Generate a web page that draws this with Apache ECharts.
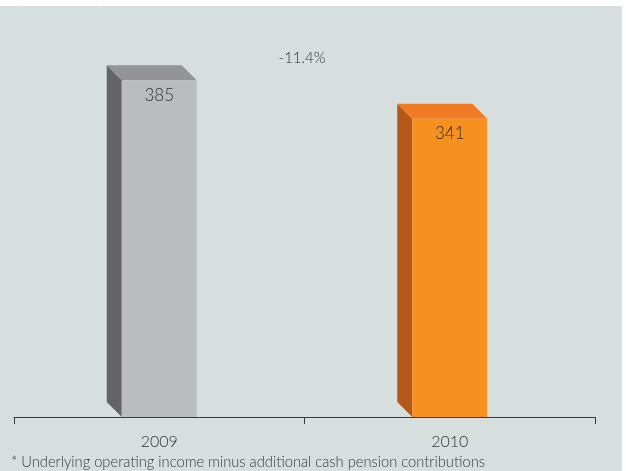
<!DOCTYPE html>
<html>
<head>
<meta charset="utf-8">
<script src="https://cdn.jsdelivr.net/npm/echarts@6/dist/echarts.min.js"></script>
<style>html,body{margin:0;padding:0;background:#fff;}#c{width:626px;height:471px;}</style>
</head>
<body>
<div id="c"></div>
<script>
const categories = ['2009', '2010'];
const values = [385, 341];
const unitLabel = '(EUR million)';
const footnote = '* Underlying operating income minus additional cash pension contributions';

const palettes = [
  { front: '#bbbcbf', side: '#646466', top: '#939496' },
  { front: '#f6901e', side: '#b6571a', top: '#f07b22' }
];
const FONT = 'Lato, "Open Sans", sans-serif';

const change = (values[1] - values[0]) / values[0] * 100;
const changeText = (change > 0 ? '+' : '') + change.toFixed(1) + '%';

const chart = echarts.init(document.getElementById('c'));
chart.setOption({
  animation: false,
  backgroundColor: '#ffffff',
  graphic: [
    { type: 'rect', z: -10, shape: { x: 0, y: 6, width: 622, height: 465 }, style: { fill: '#d6dfdd' } },
    { type: 'text', x: 15, y: 1, style: { text: unitLabel, fill: '#444', font: '15px ' + FONT, textVerticalAlign: 'bottom' } },
    { type: 'text', x: 302, y: 58, style: { text: changeText, fill: '#333', font: '300 15px ' + FONT, textAlign: 'center', textVerticalAlign: 'middle' } },
    { type: 'text', x: 11, y: 462, style: { text: footnote, fill: '#3a3a3a', font: '300 14.7px ' + FONT, textVerticalAlign: 'middle' } }
  ],
  grid: { left: 14, right: 31, top: 67, bottom: 54 },
  xAxis: {
    type: 'category',
    data: categories,
    offset: 10,
    boundaryGap: true,
    axisLine: { lineStyle: { color: '#3a3a3a', width: 1 } },
    axisTick: { show: true, length: 7, lineStyle: { color: '#3a3a3a' } },
    axisLabel: { color: '#333', fontFamily: 'Lato, "Open Sans", sans-serif', fontWeight: 300, fontSize: 16, margin: 7 }
  },
  yAxis: { type: 'value', min: 0, max: 400, show: false, splitLine: { show: false } },
  series: [{
    type: 'custom',
    data: values.map((v, i) => [i, v]),
    encode: { x: 0, y: 1 },
    renderItem: function (params, api) {
      const idx = api.value(0);
      const v = api.value(1);
      const top = api.coord([idx, v]);
      const base = api.coord([idx, 0]);
      const band = api.size([1, 0])[0];
      const w = band * 75 / 290.5;
      const d = 15;
      const x0 = top[0] - w / 2, x1 = top[0] + w / 2;
      const y0 = top[1], y1 = base[1];
      const pal = palettes[idx];
      return {
        type: 'group',
        children: [
          { type: 'polygon', shape: { points: [[x0 - d, y0 - d], [x0, y0], [x0, y1], [x0 - d, y1 - d]] }, style: { fill: pal.side } },
          { type: 'polygon', shape: { points: [[x0 - d, y0 - d], [x1 - d, y0 - d], [x1, y0], [x0, y0]] }, style: { fill: pal.top } },
          { type: 'rect', shape: { x: x0, y: y0, width: w, height: y1 - y0 }, style: { fill: pal.front } },
          { type: 'text', x: top[0], y: y0 + 15, style: { text: String(v), fill: '#333', font: '300 17px ' + FONT, textAlign: 'center', textVerticalAlign: 'middle' } }
        ]
      };
    }
  }]
});
</script>
</body>
</html>
